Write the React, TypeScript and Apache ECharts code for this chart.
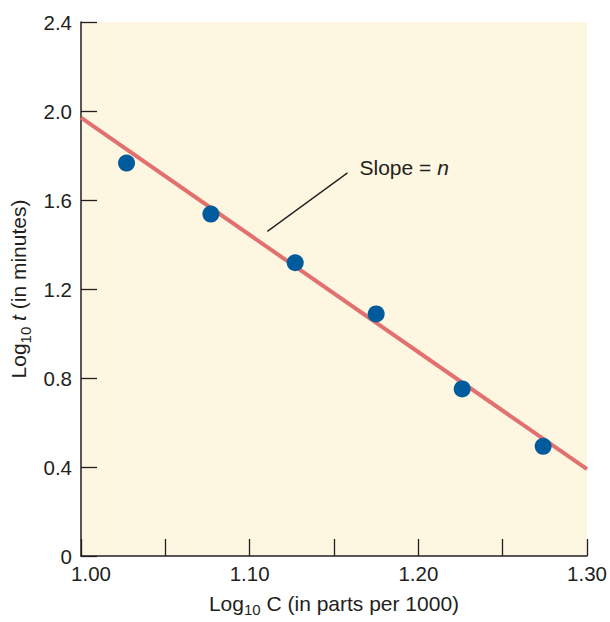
import React, { useEffect, useRef } from "react";
import * as echarts from "echarts";

// Observed data points (log10 C, log10 t)
const logC = [1.027, 1.077, 1.127, 1.175, 1.226, 1.274];
const logT = [1.766, 1.537, 1.318, 1.088, 0.751, 0.493];

// Fitted line endpoints (log10 C, log10 t)
const fitC = [1.0, 1.3];
const fitT = [1.97, 0.39];

// Leader line for the "Slope = n" annotation
const leaderC = [1.1105, 1.158];
const leaderT = [1.459, 1.722];

const yTicks = [0, 0.4, 0.8, 1.2, 1.6, 2.0, 2.4];

const TEXT = "#231f20";
const FONT = "'Liberation Sans', Arial, Helvetica, sans-serif";
const TICK_FS = 20.5;

export default function App() {
  const ref = useRef<HTMLDivElement>(null);

  useEffect(() => {
    if (!ref.current) return;
    const chart = echarts.init(ref.current, undefined, { renderer: "svg" });

    const points = logC.map((c, i) => [c, logT[i]]);
    const fit = fitC.map((c, i) => [c, fitT[i]]);
    const leader = leaderC.map((c, i) => [c, leaderT[i]]);

    chart.setOption({
      animation: false,
      backgroundColor: "#ffffff",
      textStyle: { fontFamily: FONT, color: TEXT },
      grid: {
        left: 81,
        right: 23,
        top: 22,
        bottom: 61,
        containLabel: false,
        show: true,
        backgroundColor: "#fdf6e0",
        borderWidth: 0,
      },
      xAxis: {
        type: "value",
        min: 1.0,
        max: 1.3,
        interval: 0.05,
        splitLine: { show: false },
        axisLine: { show: true, lineStyle: { color: TEXT, width: 1.5 } },
        axisTick: { show: true, inside: true, length: 17, lineStyle: { color: TEXT, width: 1.3 } },
        axisLabel: {
          margin: 7,
          fontSize: TICK_FS,
          color: TEXT,
          fontFamily: FONT,
          showMinLabel: true,
          showMaxLabel: true,
          formatter: (v: number) => {
            const k = Math.round(v * 100);
            if (k % 10 !== 0) return "";
            if (k === 100) return "{m|" + (k / 100).toFixed(2) + "}";
            return (k / 100).toFixed(2);
          },
          rich: {
            m: { fontSize: TICK_FS, color: TEXT, fontFamily: FONT, padding: [0, 0, 0, 20] },
          },
        },
        name: "{a|Log}{s|10}{a| C (in parts per 1000)}",
        nameLocation: "middle",
        nameGap: 33,
        nameTextStyle: {
          rich: {
            a: { fontSize: 21, color: TEXT, fontFamily: FONT, lineHeight: 28, verticalAlign: "middle" },
            s: { fontSize: 15, color: TEXT, fontFamily: FONT, lineHeight: 15, verticalAlign: "bottom" },
          },
        },
      },
      yAxis: {
        type: "value",
        min: 0,
        max: 2.4,
        interval: 0.4,
        splitLine: { show: false },
        axisLine: { show: true, lineStyle: { color: TEXT, width: 1.5 } },
        axisTick: { show: true, inside: true, length: 16, lineStyle: { color: TEXT, width: 1.3 } },
        axisLabel: {
          margin: 9,
          fontSize: TICK_FS,
          color: TEXT,
          fontFamily: FONT,
          showMinLabel: true,
          showMaxLabel: true,
          formatter: (v: number) => {
            const match = yTicks.find((t) => Math.abs(t - v) < 1e-6);
            if (match === undefined) return "";
            return match === 0 ? "0" : match.toFixed(1);
          },
        },
        name: "{a|Log}{s|10}{a| }{i|t}{a| (in minutes)}",
        nameLocation: "middle",
        nameGap: 48,
        nameRotate: 90,
        nameTextStyle: {
          rich: {
            a: { fontSize: 21, color: TEXT, fontFamily: FONT, lineHeight: 28, verticalAlign: "middle" },
            i: { fontSize: 21, color: TEXT, fontFamily: FONT, fontStyle: "italic", lineHeight: 28, verticalAlign: "middle" },
            s: { fontSize: 15, color: TEXT, fontFamily: FONT, lineHeight: 15, verticalAlign: "bottom" },
          },
        },
      },
      series: [
        {
          type: "line",
          data: fit,
          symbol: "none",
          lineStyle: { color: "#e2706f", width: 4 },
          z: 2,
          silent: true,
        },
        {
          type: "line",
          data: leader,
          symbol: "none",
          lineStyle: { color: "#231f20", width: 1.3 },
          z: 3,
          silent: true,
          endLabel: {
            show: true,
            distance: 12,
            offset: [0, -5],
            formatter: () => "{a|Slope = }{i|n}",
            rich: {
              a: { fontSize: 21, color: TEXT, fontFamily: FONT },
              i: { fontSize: 21, color: TEXT, fontFamily: FONT, fontStyle: "italic" },
            },
          },
        },
        {
          type: "scatter",
          data: points,
          symbol: "circle",
          symbolSize: 17,
          itemStyle: { color: "#005b9d", opacity: 1 },
          z: 4,
          silent: true,
        },
      ],
    });

    return () => chart.dispose();
  }, []);

  return (
    <div
      ref={ref}
      style={{ position: "fixed", left: 0, top: 0, width: 610, height: 622 }}
    />
  );
}
